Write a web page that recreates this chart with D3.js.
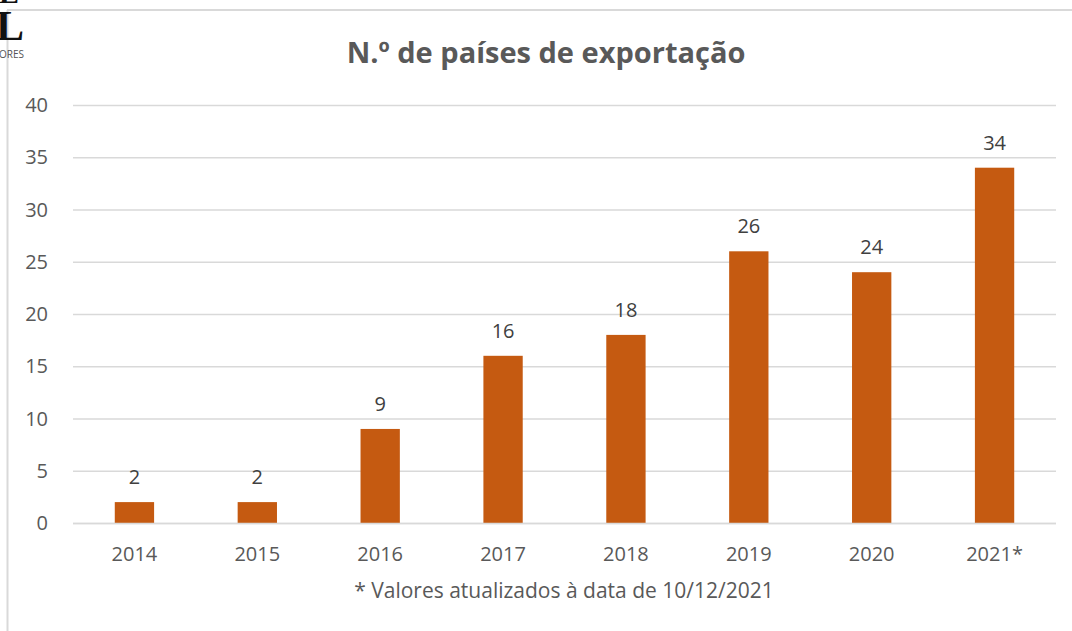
<!DOCTYPE html>
<html><head><meta charset="utf-8">
<script src="https://cdn.jsdelivr.net/npm/d3@7"></script>
<style>body{margin:0;background:#fff;}svg{display:block;}</style>
</head><body>
<svg id="c" width="1072" height="631"></svg>
<script>
const categories = ["2014","2015","2016","2017","2018","2019","2020","2021*"];
const values = [2,2,9,16,18,26,24,34];
const yTicks = [0,5,10,15,20,25,30,35,40];
const title = "N.º de países de exportação";
const footnote = "* Valores atualizados à data de 10/12/2021";

const svg = d3.select("#c");
const font = "'Open Sans', 'Liberation Sans', sans-serif";
const grey = "#595959";

// frame
svg.append("line").attr("x1",7.5).attr("x2",7.5).attr("y1",10).attr("y2",631).attr("stroke","#d9d9d9").attr("stroke-width",2);
svg.append("line").attr("x1",7).attr("x2",1072).attr("y1",10).attr("y2",10).attr("stroke","#d9d9d9").attr("stroke-width",2);

// logo fragment
svg.append("text").attr("x",-1).attr("y",3).attr("font-family","'Liberation Serif', serif").attr("font-weight","bold").attr("font-size",30).attr("fill","#111").text("E");
svg.append("text").attr("x",-4).attr("y",40).attr("font-family","'Liberation Serif', serif").attr("font-weight","bold").attr("font-size",42).attr("fill","#111").text("L");
svg.append("text").attr("x",-1).attr("y",58).attr("font-family",font).attr("font-size",10).attr("fill","#555").text("ORES");

const x = d3.scaleBand().domain(categories).range([73,1056]).paddingInner(0.68).paddingOuter(0.34);
const y = d3.scaleLinear().domain([0,40]).range([523,105]);

// grid
svg.append("g").selectAll("line").data(yTicks).join("line")
  .attr("x1",73).attr("x2",1056).attr("y1",d=>y(d)+0.5).attr("y2",d=>y(d)+0.5)
  .attr("stroke","#d9d9d9").attr("stroke-width",1.3);

// y labels
svg.append("g").selectAll("text").data(yTicks).join("text")
  .attr("x",48).attr("y",d=>y(d)).attr("dy","0.35em").attr("text-anchor","end")
  .attr("font-family",font).attr("font-size",20).attr("fill",grey).text(d=>d);

// bars
svg.append("g").selectAll("rect").data(values).join("rect")
  .attr("x",(d,i)=>x(categories[i])).attr("width",x.bandwidth())
  .attr("y",d=>y(d)).attr("height",d=>y(0)-y(d)).attr("fill","#C55A11");

// value labels
svg.append("g").selectAll("text").data(values).join("text")
  .attr("x",(d,i)=>x(categories[i])+x.bandwidth()/2).attr("y",d=>y(d)-18)
  .attr("text-anchor","middle").attr("font-family",font).attr("font-size",20).attr("fill","#404040").text(d=>d);

// x axis line
svg.append("line").attr("x1",73).attr("x2",1056).attr("y1",y(0)+0.5).attr("y2",y(0)+0.5).attr("stroke","#d9d9d9").attr("stroke-width",1.5);

// x labels
svg.append("g").selectAll("text").data(categories).join("text")
  .attr("x",d=>x(d)+x.bandwidth()/2).attr("y",561)
  .attr("text-anchor","middle").attr("font-family",font).attr("font-size",20).attr("fill",grey).text(d=>d);

// footnote
svg.append("text").attr("x",564).attr("y",598).attr("text-anchor","middle")
  .attr("font-family",font).attr("font-size",21).attr("fill",grey).text(footnote);

// title
svg.append("text").attr("x",546).attr("y",63).attr("text-anchor","middle")
  .attr("font-family",font).attr("font-weight","bold").attr("font-size",29).attr("fill",grey).text(title);
</script>
</body></html>
